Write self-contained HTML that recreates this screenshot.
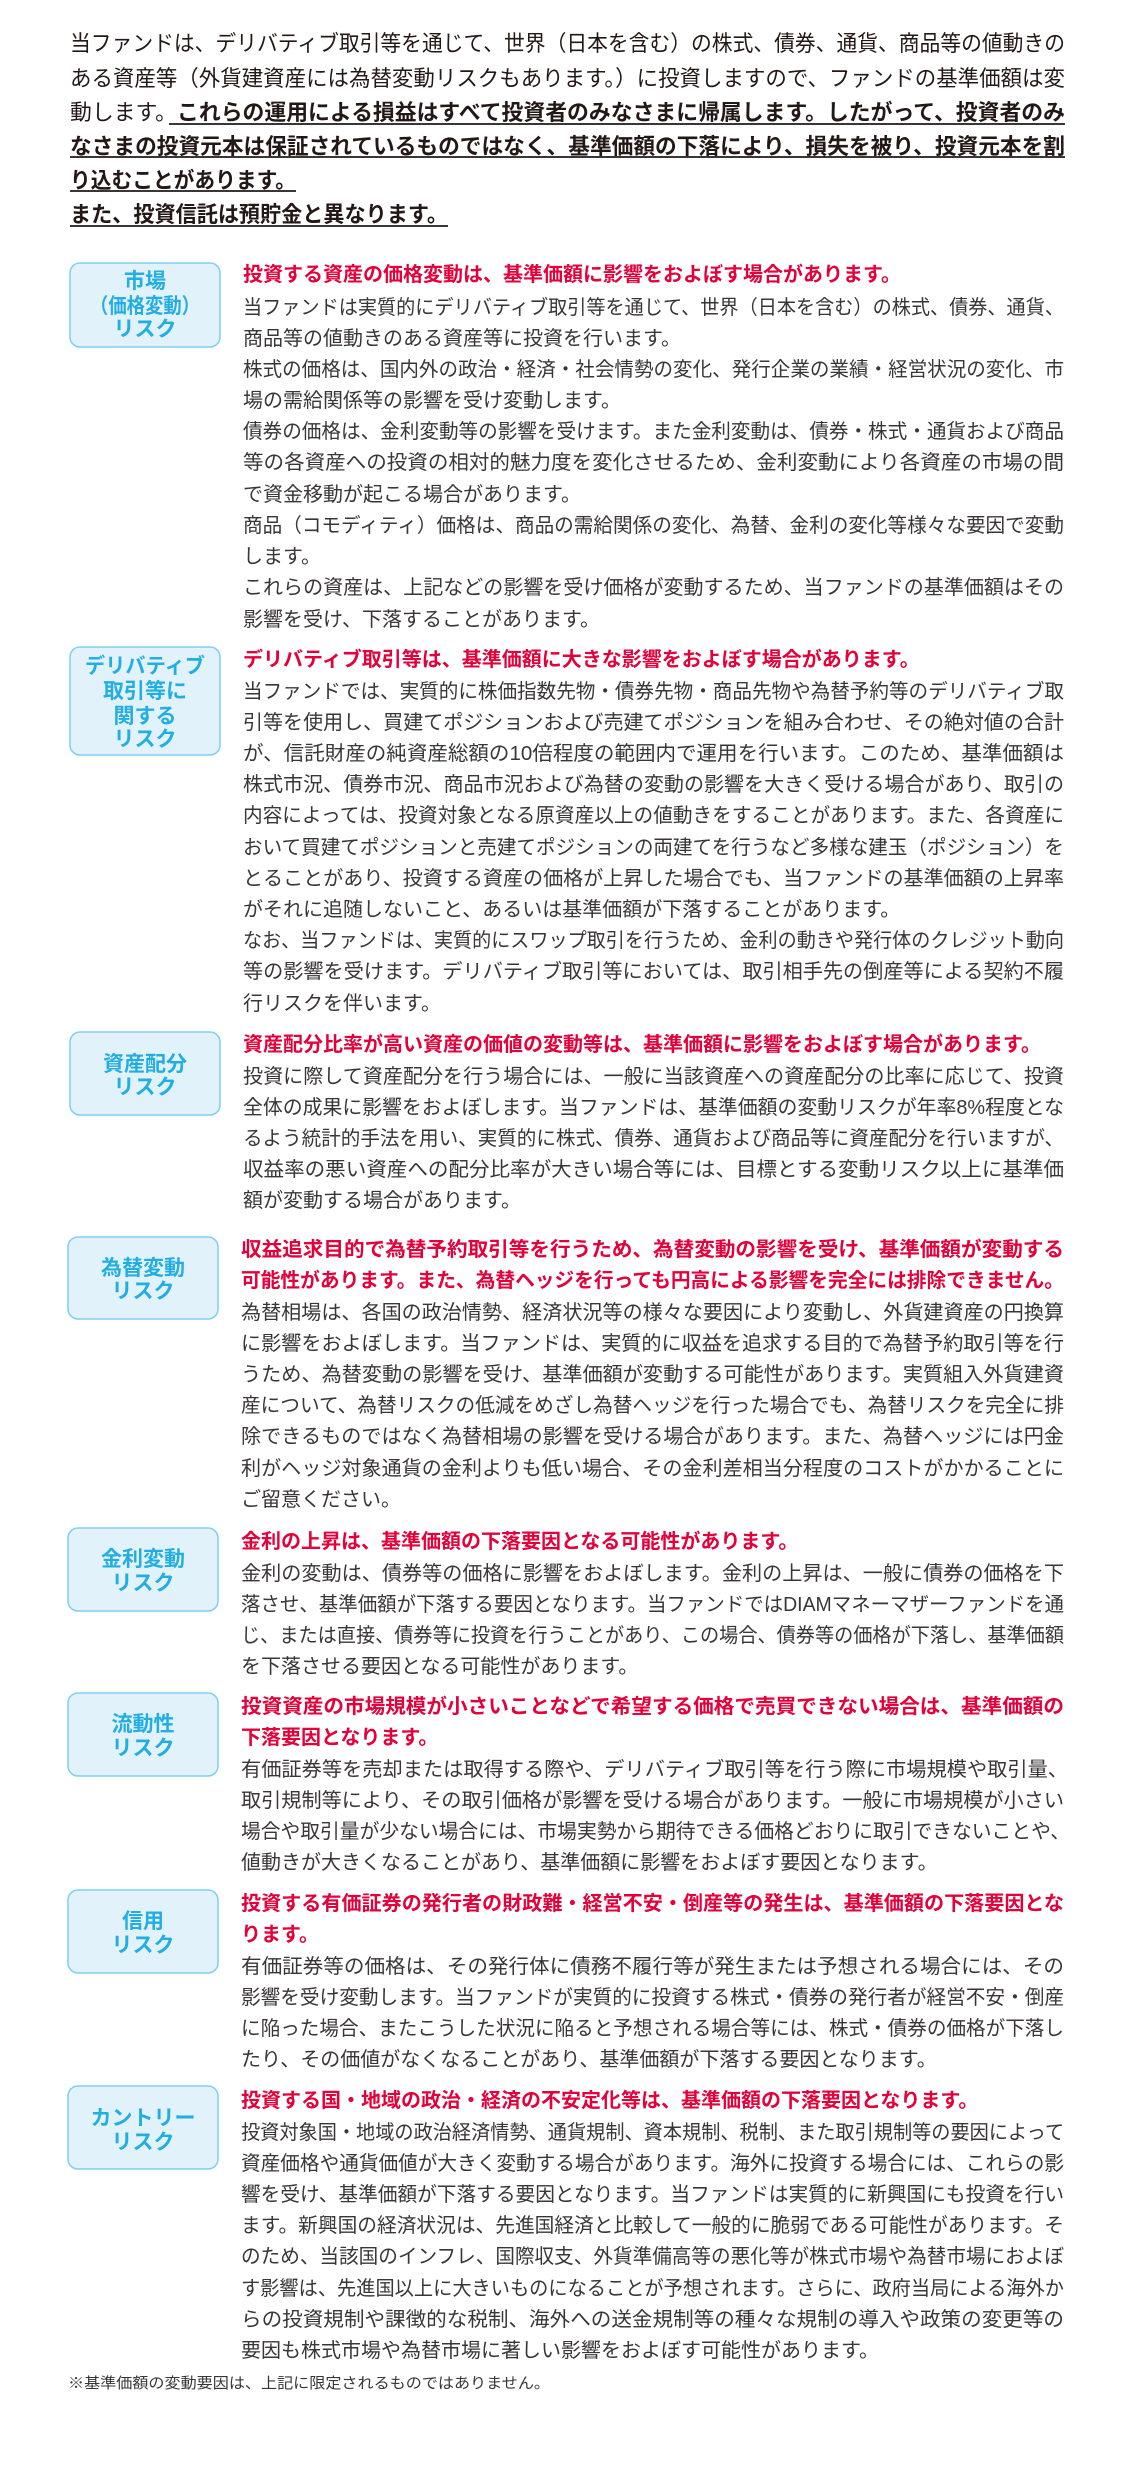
<!DOCTYPE html>
<html><head><meta charset="utf-8"><style>
html,body{margin:0;padding:0;background:#fff;}
svg{display:block;}
text{font-family:"Liberation Sans","Noto Sans CJK JP",sans-serif;}
.h{font-size:22px;fill:#231815;}
.hb{font-weight:bold;}
.r{font-size:20px;fill:#e4003a;font-weight:bold;}
.b{font-size:20px;fill:#3a3536;}
.l{font-size:21px;fill:#22aee3;font-weight:bold;}
.bx{fill:#e2f2fa;stroke:#7fcff0;stroke-width:1.5;}
</style></head><body>
<svg width="1130" height="2474" viewBox="0 0 1130 2474" xmlns="http://www.w3.org/2000/svg">
<!-- header -->
<text class="h" x="70" y="51" textLength="995" lengthAdjust="spacingAndGlyphs">当ファンドは、デリバティブ取引等を通じて、世界（日本を含む）の株式、債券、通貨、商品等の値動きの</text>
<text class="h" x="70" y="86" textLength="995" lengthAdjust="spacingAndGlyphs">ある資産等（外貨建資産には為替変動リスクもあります。）に投資しますので、ファンドの基準価額は変</text>
<text class="h" x="70" y="120" textLength="995" lengthAdjust="spacingAndGlyphs">動します。<tspan class="hb">これらの運用による損益はすべて投資者のみなさまに帰属します。したがって、投資者のみ</tspan></text>
<text class="h hb" x="70" y="154" textLength="995" lengthAdjust="spacingAndGlyphs">なさまの投資元本は保証されているものではなく、基準価額の下落により、損失を被り、投資元本を割</text>
<text class="h hb" x="70" y="188" textLength="226" lengthAdjust="spacingAndGlyphs">り込むことがあります。</text>
<text class="h hb" x="70" y="222" textLength="378" lengthAdjust="spacingAndGlyphs">また、投資信託は預貯金と異なります。</text>
<g stroke="#3a3536" stroke-width="2">
<line x1="169" y1="124" x2="1065" y2="124"/>
<line x1="70" y1="157" x2="1065" y2="157"/>
<line x1="70" y1="191" x2="296" y2="191"/>
<line x1="70" y1="226" x2="448" y2="226"/>
</g>

<!-- boxes -->
<rect class="bx" x="70" y="263" width="150" height="84" rx="10"/>
<text class="l" text-anchor="middle" x="145" y="288">市場</text>
<text class="l" text-anchor="middle" x="145" y="313" textLength="110" lengthAdjust="spacingAndGlyphs">（価格変動）</text>
<text class="l" text-anchor="middle" x="145" y="336">リスク</text>

<rect class="bx" x="70" y="647" width="150" height="108" rx="10"/>
<text class="l" text-anchor="middle" x="145" y="673" textLength="120" lengthAdjust="spacingAndGlyphs">デリバティブ</text>
<text class="l" text-anchor="middle" x="145" y="698">取引等に</text>
<text class="l" text-anchor="middle" x="145" y="723">関する</text>
<text class="l" text-anchor="middle" x="145" y="746">リスク</text>

<rect class="bx" x="70" y="1032" width="150" height="83" rx="10"/>
<text class="l" text-anchor="middle" x="145" y="1071">資産配分</text>
<text class="l" text-anchor="middle" x="145" y="1094">リスク</text>

<rect class="bx" x="68" y="1237" width="150" height="82" rx="10"/>
<text class="l" text-anchor="middle" x="143" y="1275">為替変動</text>
<text class="l" text-anchor="middle" x="143" y="1298">リスク</text>

<rect class="bx" x="68" y="1528" width="150" height="83" rx="10"/>
<text class="l" text-anchor="middle" x="143" y="1566">金利変動</text>
<text class="l" text-anchor="middle" x="143" y="1590">リスク</text>

<rect class="bx" x="68" y="1693" width="150" height="83" rx="10"/>
<text class="l" text-anchor="middle" x="143" y="1731">流動性</text>
<text class="l" text-anchor="middle" x="143" y="1755">リスク</text>

<rect class="bx" x="68" y="1890" width="150" height="83" rx="10"/>
<text class="l" text-anchor="middle" x="143" y="1928">信用</text>
<text class="l" text-anchor="middle" x="143" y="1952">リスク</text>

<rect class="bx" x="68" y="2086" width="150" height="83" rx="10"/>
<text class="l" text-anchor="middle" x="143" y="2125">カントリー</text>
<text class="l" text-anchor="middle" x="143" y="2149">リスク</text>

<!-- S1 -->
<text class="r" x="243" y="281">投資する資産の価格変動は、基準価額に影響をおよぼす場合があります。</text>
<text class="b" x="243" y="314" textLength="821" lengthAdjust="spacingAndGlyphs">当ファンドは実質的にデリバティブ取引等を通じて、世界（日本を含む）の株式、債券、通貨、</text>
<text class="b" x="243" y="345">商品等の値動きのある資産等に投資を行います。</text>
<text class="b" x="243" y="376" textLength="821" lengthAdjust="spacingAndGlyphs">株式の価格は、国内外の政治・経済・社会情勢の変化、発行企業の業績・経営状況の変化、市</text>
<text class="b" x="243" y="407">場の需給関係等の影響を受け変動します。</text>
<text class="b" x="243" y="438" textLength="821" lengthAdjust="spacingAndGlyphs">債券の価格は、金利変動等の影響を受けます。また金利変動は、債券・株式・通貨および商品</text>
<text class="b" x="243" y="469" textLength="821" lengthAdjust="spacingAndGlyphs">等の各資産への投資の相対的魅力度を変化させるため、金利変動により各資産の市場の間</text>
<text class="b" x="243" y="501">で資金移動が起こる場合があります。</text>
<text class="b" x="243" y="532" textLength="821" lengthAdjust="spacingAndGlyphs">商品（コモディティ）価格は、商品の需給関係の変化、為替、金利の変化等様々な要因で変動</text>
<text class="b" x="243" y="563">します。</text>
<text class="b" x="243" y="594" textLength="821" lengthAdjust="spacingAndGlyphs">これらの資産は、上記などの影響を受け価格が変動するため、当ファンドの基準価額はその</text>
<text class="b" x="243" y="626">影響を受け、下落することがあります。</text>

<!-- S2 -->
<text class="r" x="243" y="666">デリバティブ取引等は、基準価額に大きな影響をおよぼす場合があります。</text>
<text class="b" x="243" y="698" textLength="821" lengthAdjust="spacingAndGlyphs">当ファンドでは、実質的に株価指数先物・債券先物・商品先物や為替予約等のデリバティブ取</text>
<text class="b" x="243" y="729" textLength="821" lengthAdjust="spacingAndGlyphs">引等を使用し、買建てポジションおよび売建てポジションを組み合わせ、その絶対値の合計</text>
<text class="b" x="243" y="760" textLength="821" lengthAdjust="spacingAndGlyphs">が、信託財産の純資産総額の10倍程度の範囲内で運用を行います。このため、基準価額は</text>
<text class="b" x="243" y="791" textLength="821" lengthAdjust="spacingAndGlyphs">株式市況、債券市況、商品市況および為替の変動の影響を大きく受ける場合があり、取引の</text>
<text class="b" x="243" y="822" textLength="821" lengthAdjust="spacingAndGlyphs">内容によっては、投資対象となる原資産以上の値動きをすることがあります。また、各資産に</text>
<text class="b" x="243" y="854" textLength="821" lengthAdjust="spacingAndGlyphs">おいて買建てポジションと売建てポジションの両建てを行うなど多様な建玉（ポジション）を</text>
<text class="b" x="243" y="885" textLength="821" lengthAdjust="spacingAndGlyphs">とることがあり、投資する資産の価格が上昇した場合でも、当ファンドの基準価額の上昇率</text>
<text class="b" x="243" y="916">がそれに追随しないこと、あるいは基準価額が下落することがあります。</text>
<text class="b" x="243" y="947" textLength="821" lengthAdjust="spacingAndGlyphs">なお、当ファンドは、実質的にスワップ取引を行うため、金利の動きや発行体のクレジット動向</text>
<text class="b" x="243" y="978" textLength="821" lengthAdjust="spacingAndGlyphs">等の影響を受けます。デリバティブ取引等においては、取引相手先の倒産等による契約不履</text>
<text class="b" x="243" y="1010">行リスクを伴います。</text>

<!-- S3 -->
<text class="r" x="243" y="1051">資産配分比率が高い資産の価値の変動等は、基準価額に影響をおよぼす場合があります。</text>
<text class="b" x="243" y="1083" textLength="821" lengthAdjust="spacingAndGlyphs">投資に際して資産配分を行う場合には、一般に当該資産への資産配分の比率に応じて、投資</text>
<text class="b" x="243" y="1114" textLength="821" lengthAdjust="spacingAndGlyphs">全体の成果に影響をおよぼします。当ファンドは、基準価額の変動リスクが年率8%程度とな</text>
<text class="b" x="243" y="1145" textLength="821" lengthAdjust="spacingAndGlyphs">るよう統計的手法を用い、実質的に株式、債券、通貨および商品等に資産配分を行いますが、</text>
<text class="b" x="243" y="1176" textLength="821" lengthAdjust="spacingAndGlyphs">収益率の悪い資産への配分比率が大きい場合等には、目標とする変動リスク以上に基準価</text>
<text class="b" x="243" y="1207">額が変動する場合があります。</text>

<!-- S4 -->
<text class="r" x="241" y="1256" textLength="823" lengthAdjust="spacingAndGlyphs">収益追求目的で為替予約取引等を行うため、為替変動の影響を受け、基準価額が変動する</text>
<text class="r" x="241" y="1287" textLength="823" lengthAdjust="spacingAndGlyphs">可能性があります。また、為替ヘッジを行っても円高による影響を完全には排除できません。</text>
<text class="b" x="241" y="1319" textLength="823" lengthAdjust="spacingAndGlyphs">為替相場は、各国の政治情勢、経済状況等の様々な要因により変動し、外貨建資産の円換算</text>
<text class="b" x="241" y="1350" textLength="823" lengthAdjust="spacingAndGlyphs">に影響をおよぼします。当ファンドは、実質的に収益を追求する目的で為替予約取引等を行</text>
<text class="b" x="241" y="1381" textLength="823" lengthAdjust="spacingAndGlyphs">うため、為替変動の影響を受け、基準価額が変動する可能性があります。実質組入外貨建資</text>
<text class="b" x="241" y="1412" textLength="823" lengthAdjust="spacingAndGlyphs">産について、為替リスクの低減をめざし為替ヘッジを行った場合でも、為替リスクを完全に排</text>
<text class="b" x="241" y="1443" textLength="823" lengthAdjust="spacingAndGlyphs">除できるものではなく為替相場の影響を受ける場合があります。また、為替ヘッジには円金</text>
<text class="b" x="241" y="1475" textLength="823" lengthAdjust="spacingAndGlyphs">利がヘッジ対象通貨の金利よりも低い場合、その金利差相当分程度のコストがかかることに</text>
<text class="b" x="241" y="1506">ご留意ください。</text>

<!-- S5 -->
<text class="r" x="241" y="1548">金利の上昇は、基準価額の下落要因となる可能性があります。</text>
<text class="b" x="241" y="1580" textLength="823" lengthAdjust="spacingAndGlyphs">金利の変動は、債券等の価格に影響をおよぼします。金利の上昇は、一般に債券の価格を下</text>
<text class="b" x="241" y="1611" textLength="823" lengthAdjust="spacingAndGlyphs">落させ、基準価額が下落する要因となります。当ファンドではDIAMマネーマザーファンドを通</text>
<text class="b" x="241" y="1642" textLength="823" lengthAdjust="spacingAndGlyphs">じ、または直接、債券等に投資を行うことがあり、この場合、債券等の価格が下落し、基準価額</text>
<text class="b" x="241" y="1673">を下落させる要因となる可能性があります。</text>

<!-- S6 -->
<text class="r" x="241" y="1713" textLength="823" lengthAdjust="spacingAndGlyphs">投資資産の市場規模が小さいことなどで希望する価格で売買できない場合は、基準価額の</text>
<text class="r" x="241" y="1744">下落要因となります。</text>
<text class="b" x="241" y="1776" textLength="827" lengthAdjust="spacingAndGlyphs">有価証券等を売却または取得する際や、デリバティブ取引等を行う際に市場規模や取引量、</text>
<text class="b" x="241" y="1807" textLength="823" lengthAdjust="spacingAndGlyphs">取引規制等により、その取引価格が影響を受ける場合があります。一般に市場規模が小さい</text>
<text class="b" x="241" y="1838" textLength="829" lengthAdjust="spacingAndGlyphs">場合や取引量が少ない場合には、市場実勢から期待できる価格どおりに取引できないことや、</text>
<text class="b" x="241" y="1869">値動きが大きくなることがあり、基準価額に影響をおよぼす要因となります。</text>

<!-- S7 -->
<text class="r" x="241" y="1910" textLength="823" lengthAdjust="spacingAndGlyphs">投資する有価証券の発行者の財政難・経営不安・倒産等の発生は、基準価額の下落要因とな</text>
<text class="r" x="241" y="1941">ります。</text>
<text class="b" x="241" y="1973" textLength="823" lengthAdjust="spacingAndGlyphs">有価証券等の価格は、その発行体に債務不履行等が発生または予想される場合には、その</text>
<text class="b" x="241" y="2004" textLength="823" lengthAdjust="spacingAndGlyphs">影響を受け変動します。当ファンドが実質的に投資する株式・債券の発行者が経営不安・倒産</text>
<text class="b" x="241" y="2035" textLength="823" lengthAdjust="spacingAndGlyphs">に陥った場合、またこうした状況に陥ると予想される場合等には、株式・債券の価格が下落し</text>
<text class="b" x="241" y="2066">たり、その価値がなくなることがあり、基準価額が下落する要因となります。</text>

<!-- S8 -->
<text class="r" x="241" y="2107">投資する国・地域の政治・経済の不安定化等は、基準価額の下落要因となります。</text>
<text class="b" x="241" y="2139" textLength="823" lengthAdjust="spacingAndGlyphs">投資対象国・地域の政治経済情勢、通貨規制、資本規制、税制、また取引規制等の要因によって</text>
<text class="b" x="241" y="2170" textLength="823" lengthAdjust="spacingAndGlyphs">資産価格や通貨価値が大きく変動する場合があります。海外に投資する場合には、これらの影</text>
<text class="b" x="241" y="2201" textLength="823" lengthAdjust="spacingAndGlyphs">響を受け、基準価額が下落する要因となります。当ファンドは実質的に新興国にも投資を行い</text>
<text class="b" x="241" y="2232" textLength="823" lengthAdjust="spacingAndGlyphs">ます。新興国の経済状況は、先進国経済と比較して一般的に脆弱である可能性があります。そ</text>
<text class="b" x="241" y="2263" textLength="823" lengthAdjust="spacingAndGlyphs">のため、当該国のインフレ、国際収支、外貨準備高等の悪化等が株式市場や為替市場におよぼ</text>
<text class="b" x="241" y="2295" textLength="823" lengthAdjust="spacingAndGlyphs">す影響は、先進国以上に大きいものになることが予想されます。さらに、政府当局による海外か</text>
<text class="b" x="241" y="2326" textLength="823" lengthAdjust="spacingAndGlyphs">らの投資規制や課徴的な税制、海外への送金規制等の種々な規制の導入や政策の変更等の</text>
<text class="b" x="241" y="2357">要因も株式市場や為替市場に著しい影響をおよぼす可能性があります。</text>

<text x="68" y="2388" style="font-size:15px;fill:#3a3536;" textLength="482" lengthAdjust="spacingAndGlyphs">※基準価額の変動要因は、上記に限定されるものではありません。</text>
</svg>
</body></html>
